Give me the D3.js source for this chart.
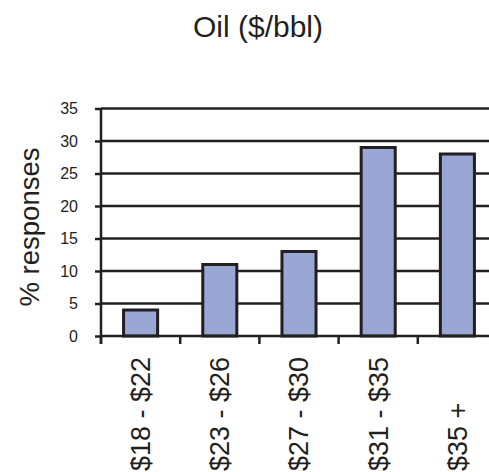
<!DOCTYPE html>
<html>
<head>
<meta charset="utf-8">
<script src="https://cdn.jsdelivr.net/npm/d3@7"></script>
<style>
  html, body { margin: 0; padding: 0; background: #fff; }
  svg { display: block; font-family: "Liberation Sans", Arial, sans-serif; }
</style>
</head>
<body>
<svg id="chart" width="489" height="472"></svg>
<script>
// Price-range buckets and share of responses
const categories = ["$18 - $22", "$23 - $26", "$27 - $30", "$31 - $35", "$35 +"];
const responses = [4, 11, 13, 29, 28];
const yTicks = [0, 5, 10, 15, 20, 25, 30, 35];

const svg = d3.select("#chart");
const plotLeft = 101, plotRight = 497, plotTop = 108.5, plotBottom = 336;
const ink = "#231f20";

const x = d3.scaleBand()
  .domain(categories)
  .range([plotLeft, plotRight])
  .paddingInner(0.57)
  .paddingOuter(0.285);

const y = d3.scaleLinear().domain([0, 35]).range([plotBottom, plotTop]);

// Title
svg.append("text")
  .attr("x", 258).attr("y", 37)
  .attr("text-anchor", "middle")
  .attr("font-size", 30)
  .attr("fill", ink)
  .text("Oil ($/bbl)");

// Horizontal gridlines
svg.append("g")
  .selectAll("line")
  .data(yTicks.filter(d => d > 0))
  .join("line")
  .attr("x1", plotLeft).attr("x2", 489)
  .attr("y1", d => y(d)).attr("y2", d => y(d))
  .attr("stroke", ink).attr("stroke-width", 2.5);

// Y axis
const yAxis = svg.append("g")
  .attr("transform", `translate(${plotLeft},0)`)
  .call(d3.axisLeft(y).tickValues(yTicks).tickSize(6).tickPadding(17));
yAxis.select(".domain").remove();
yAxis.selectAll(".tick line").attr("stroke", ink).attr("stroke-width", 2.5);
yAxis.selectAll(".tick text")
  .attr("font-size", 16)
  .attr("font-family", "Liberation Sans, Arial, sans-serif")
  .attr("fill", ink);

svg.append("line")
  .attr("x1", plotLeft).attr("x2", plotLeft)
  .attr("y1", plotTop).attr("y2", plotBottom + 8)
  .attr("stroke", ink).attr("stroke-width", 2.5);

// Y axis title
svg.append("text")
  .attr("transform", "translate(29,227) rotate(-90)")
  .attr("text-anchor", "middle")
  .attr("dy", "0.35em")
  .attr("font-size", 27.5)
  .attr("fill", ink)
  .text("% responses");

// Bars
svg.append("g")
  .selectAll("rect")
  .data(categories.map((c, i) => ({ c, v: responses[i] })))
  .join("rect")
  .attr("x", d => x(d.c))
  .attr("y", d => y(d.v))
  .attr("width", x.bandwidth())
  .attr("height", d => y(0) - y(d.v))
  .attr("fill", "#9aa6d3")
  .attr("stroke", ink)
  .attr("stroke-width", 3);

// X axis baseline and tick marks at category boundaries
svg.append("line")
  .attr("x1", plotLeft).attr("x2", 489)
  .attr("y1", plotBottom).attr("y2", plotBottom)
  .attr("stroke", ink).attr("stroke-width", 2.5);

svg.append("g")
  .selectAll("line")
  .data(categories)
  .join("line")
  .attr("x1", d => x(d) - x.step() * x.paddingOuter())
  .attr("x2", d => x(d) - x.step() * x.paddingOuter())
  .attr("y1", plotBottom).attr("y2", plotBottom + 8)
  .attr("stroke", ink).attr("stroke-width", 2.5);

// Rotated category labels, read bottom-to-top from a common start line
svg.append("g")
  .selectAll("text")
  .data(categories)
  .join("text")
  .attr("transform", d => `translate(${x(d) + x.bandwidth() / 2},471) rotate(-90)`)
  .attr("text-anchor", "start")
  .attr("dy", "0.35em")
  .attr("font-size", 27)
  .attr("fill", ink)
  .text(d => d);
</script>
</body>
</html>
